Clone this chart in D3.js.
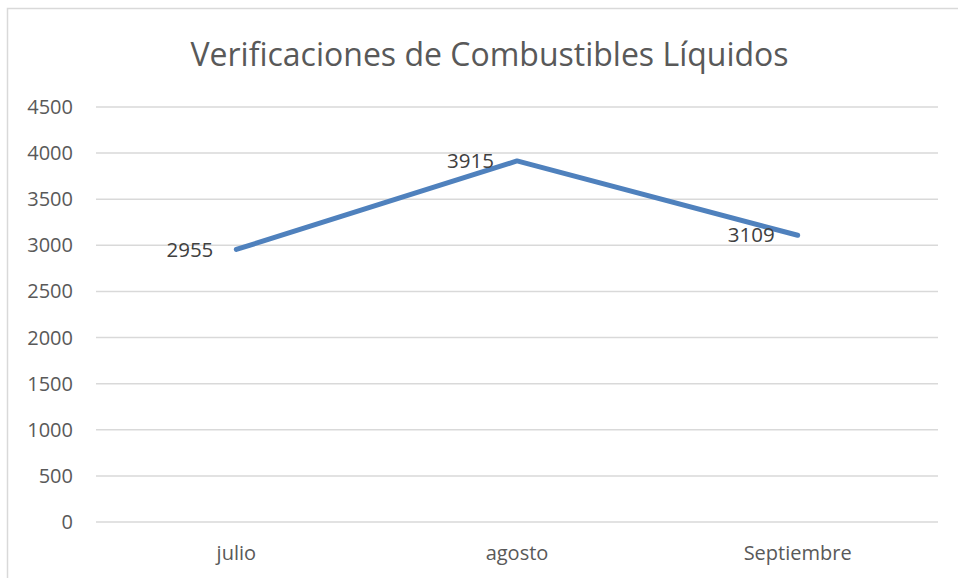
<!DOCTYPE html>
<html>
<head>
<meta charset="utf-8">
<script src="https://cdn.jsdelivr.net/npm/d3@7"></script>
<style>
  body { margin: 0; background: #fff; }
  text { font-family: "Open Sans", sans-serif; }
</style>
</head>
<body>
<div id="chart"></div>
<script>
var months = ["julio", "agosto", "Septiembre"];
var verificaciones = [2955, 3915, 3109];
var yTicks = [0, 500, 1000, 1500, 2000, 2500, 3000, 3500, 4000, 4500];

var W = 958, H = 578;
var margin = {top: 107, right: 20, bottom: 56, left: 96};
var width = 938 - margin.left;
var height = 522 - margin.top;

var svg = d3.select("#chart").append("svg")
    .attr("width", W)
    .attr("height", H);

// chart border (only top and left visible in the crop)
svg.append("path")
    .attr("d", "M7.5," + H + "V8.5H" + W)
    .attr("fill", "none")
    .attr("stroke", "#d9d9d9")
    .attr("stroke-width", 1.5);

svg.append("text")
    .attr("x", 489.5)
    .attr("y", 66)
    .attr("text-anchor", "middle")
    .style("font-size", "32px")
    .style("fill", "#595959")
    .text("Verificaciones de Combustibles Líquidos");

var g = svg.append("g")
    .attr("transform", "translate(" + margin.left + "," + margin.top + ")");

var x = d3.scalePoint()
    .domain(months)
    .range([0, width])
    .padding(0.5);

var y = d3.scaleLinear()
    .domain([0, 4500])
    .range([height, 0]);

// gridlines
g.selectAll("line.grid")
    .data(yTicks)
    .enter()
    .append("line")
    .attr("class", "grid")
    .attr("x1", 0)
    .attr("x2", width)
    .attr("y1", function(d) { return y(d); })
    .attr("y2", function(d) { return y(d); })
    .attr("stroke", "#d9d9d9")
    .attr("stroke-width", 1.5);

// y labels
g.selectAll("text.ytick")
    .data(yTicks)
    .enter()
    .append("text")
    .attr("class", "ytick")
    .attr("x", -23)
    .attr("y", function(d) { return y(d); })
    .attr("dy", "0.35em")
    .attr("text-anchor", "end")
    .style("font-size", "20px")
    .style("fill", "#595959")
    .text(function(d) { return d; });

// x labels
g.selectAll("text.xtick")
    .data(months)
    .enter()
    .append("text")
    .attr("class", "xtick")
    .attr("x", function(d) { return x(d); })
    .attr("y", height + 38)
    .attr("text-anchor", "middle")
    .style("font-size", "20px")
    .style("fill", "#595959")
    .text(function(d) { return d; });

var data = months.map(function(m, i) { return {month: m, value: verificaciones[i]}; });

var line = d3.line()
    .x(function(d) { return x(d.month); })
    .y(function(d) { return y(d.value); });

g.append("path")
    .datum(data)
    .attr("d", line)
    .attr("fill", "none")
    .attr("stroke", "#4f81bd")
    .attr("stroke-width", 5)
    .attr("stroke-linecap", "round")
    .attr("stroke-linejoin", "round");

// data labels, to the left of each point
g.selectAll("text.label")
    .data(data)
    .enter()
    .append("text")
    .attr("class", "label")
    .attr("x", function(d) { return x(d.month) - 23; })
    .attr("y", function(d) { return y(d.value); })
    .attr("dy", "0.35em")
    .attr("text-anchor", "end")
    .style("font-size", "20.5px")
    .style("fill", "#404040")
    .text(function(d) { return d.value; });
</script>
</body>
</html>
